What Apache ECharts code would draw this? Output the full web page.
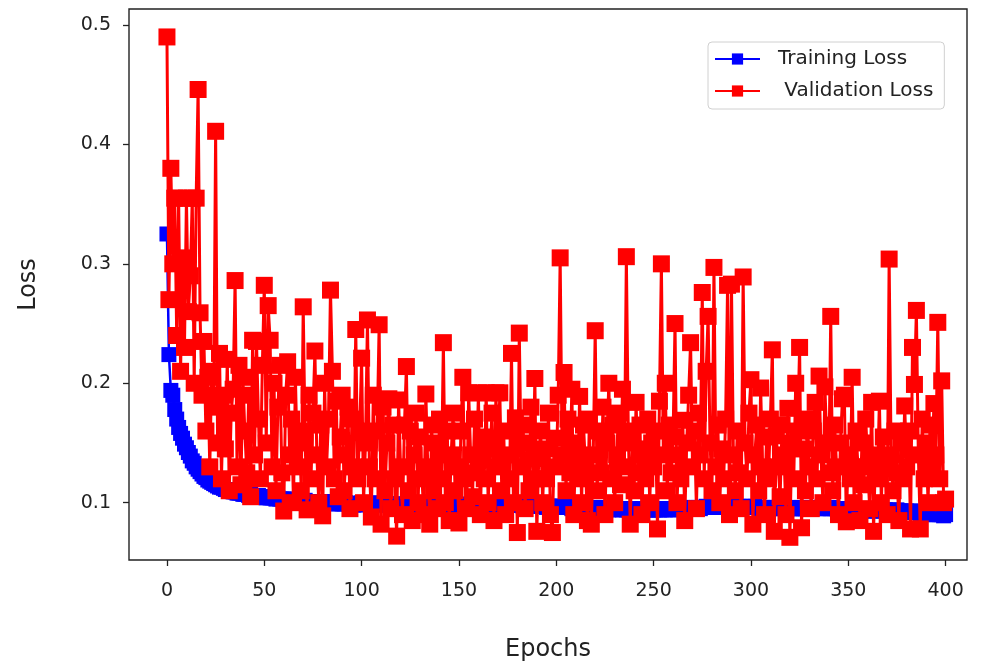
<!DOCTYPE html>
<html>
<head>
<meta charset="utf-8">
<script src="https://cdn.jsdelivr.net/npm/echarts@6/dist/echarts.min.js"></script>
<style>html,body{margin:0;padding:0;background:#fff;}#chart{width:984px;height:667px;}</style>
</head>
<body>
<div id="chart"></div>
<script>
const xTicks = [0, 50, 100, 150, 200, 250, 300, 350, 400];
const yTicks = [0.1, 0.2, 0.3, 0.4, 0.5];

const trainingLoss = [
0.325,0.224,0.194,0.190,0.178,0.170,0.163,0.158,0.154,0.149,
0.146,0.142,0.139,0.135,0.133,0.130,0.128,0.126,0.124,0.122,
0.121,0.119,0.118,0.117,0.116,0.115,0.114,0.113,0.113,0.112,
0.111,0.111,0.110,0.110,0.109,0.109,0.108,0.108,0.108,0.107,
0.107,0.107,0.106,0.107,0.106,0.106,0.105,0.106,0.105,0.105,
0.105,0.104,0.105,0.104,0.104,0.104,0.103,0.104,0.103,0.103,
0.103,0.102,0.103,0.102,0.102,0.103,0.102,0.101,0.102,0.101,
0.101,0.102,0.101,0.101,0.100,0.101,0.101,0.100,0.101,0.100,
0.100,0.100,0.101,0.100,0.100,0.099,0.100,0.100,0.099,0.100,
0.099,0.099,0.100,0.099,0.099,0.099,0.098,0.099,0.099,0.098,
0.100,0.099,0.100,0.099,0.099,0.100,0.099,0.099,0.098,0.099,
0.099,0.098,0.099,0.099,0.098,0.099,0.098,0.098,0.099,0.098,
0.099,0.098,0.098,0.097,0.098,0.098,0.099,0.098,0.097,0.098,
0.098,0.097,0.098,0.098,0.097,0.098,0.097,0.098,0.098,0.097,
0.097,0.098,0.097,0.097,0.098,0.096,0.097,0.098,0.097,0.097,
0.098,0.097,0.097,0.098,0.097,0.098,0.099,0.098,0.097,0.098,
0.098,0.099,0.098,0.098,0.099,0.098,0.098,0.099,0.099,0.098,
0.099,0.098,0.099,0.099,0.098,0.099,0.098,0.099,0.098,0.098,
0.098,0.099,0.098,0.097,0.098,0.098,0.097,0.098,0.097,0.097,
0.098,0.097,0.097,0.098,0.097,0.096,0.097,0.097,0.096,0.097,
0.097,0.096,0.097,0.096,0.096,0.097,0.096,0.096,0.095,0.096,
0.096,0.095,0.096,0.094,0.093,0.095,0.096,0.095,0.095,0.096,
0.095,0.096,0.095,0.095,0.096,0.095,0.095,0.094,0.095,0.095,
0.095,0.094,0.095,0.095,0.094,0.095,0.094,0.094,0.095,0.094,
0.094,0.095,0.094,0.094,0.095,0.094,0.094,0.095,0.094,0.094,
0.094,0.094,0.095,0.094,0.094,0.095,0.094,0.095,0.095,0.094,
0.095,0.095,0.094,0.095,0.095,0.096,0.095,0.095,0.096,0.095,
0.096,0.095,0.096,0.096,0.095,0.096,0.096,0.097,0.096,0.096,
0.096,0.097,0.096,0.096,0.097,0.096,0.097,0.096,0.096,0.097,
0.096,0.097,0.096,0.096,0.097,0.096,0.096,0.097,0.096,0.096,
0.096,0.096,0.097,0.096,0.096,0.095,0.096,0.096,0.095,0.096,
0.096,0.095,0.096,0.095,0.096,0.096,0.095,0.096,0.095,0.095,
0.096,0.095,0.095,0.096,0.095,0.095,0.096,0.095,0.095,0.096,
0.095,0.096,0.095,0.096,0.096,0.095,0.096,0.096,0.095,0.096,
0.095,0.095,0.096,0.095,0.095,0.094,0.095,0.095,0.094,0.095,
0.094,0.095,0.094,0.094,0.095,0.094,0.094,0.093,0.094,0.094,
0.093,0.094,0.094,0.093,0.094,0.093,0.094,0.094,0.093,0.094,
0.093,0.093,0.094,0.093,0.093,0.094,0.093,0.093,0.092,0.093,
0.093,0.092,0.093,0.092,0.092,0.093,0.092,0.091,0.092,0.091,
0.091,0.091,0.090,0.091,0.090,0.090,0.091,0.090,0.090,0.089,
0.090
];

const validationLoss = [
0.490,0.270,0.380,0.300,0.355,0.240,0.355,0.210,0.305,0.230,
0.355,0.260,0.290,0.355,0.200,0.355,0.446,0.259,0.190,0.235,
0.160,0.205,0.130,0.210,0.180,0.411,0.150,0.225,0.120,0.190,
0.145,0.220,0.110,0.175,0.195,0.286,0.130,0.215,0.115,0.205,
0.160,0.125,0.190,0.105,0.236,0.140,0.235,0.170,0.120,0.215,
0.282,0.150,0.265,0.236,0.130,0.200,0.110,0.180,0.215,0.125,
0.093,0.190,0.218,0.140,0.170,0.100,0.205,0.130,0.160,0.110,
0.264,0.150,0.094,0.190,0.120,0.175,0.227,0.140,0.100,0.165,
0.089,0.200,0.130,0.170,0.278,0.210,0.120,0.185,0.105,0.155,
0.190,0.110,0.140,0.180,0.095,0.170,0.130,0.245,0.120,0.160,
0.221,0.100,0.150,0.253,0.130,0.088,0.190,0.120,0.160,0.249,
0.082,0.180,0.110,0.150,0.187,0.095,0.165,0.120,0.072,0.186,
0.130,0.090,0.165,0.214,0.110,0.160,0.085,0.140,0.175,0.100,
0.155,0.120,0.090,0.191,0.130,0.082,0.165,0.110,0.150,0.095,
0.170,0.120,0.234,0.100,0.160,0.085,0.140,0.175,0.110,0.130,
0.083,0.160,0.205,0.120,0.095,0.192,0.140,0.105,0.170,0.125,
0.192,0.090,0.155,0.120,0.192,0.100,0.145,0.175,0.085,0.192,
0.130,0.192,0.110,0.160,0.090,0.140,0.120,0.225,0.100,0.171,
0.075,0.242,0.130,0.165,0.095,0.150,0.110,0.180,0.120,0.204,
0.076,0.137,0.160,0.100,0.145,0.120,0.175,0.090,0.075,0.154,
0.130,0.190,0.305,0.140,0.209,0.110,0.170,0.125,0.195,0.090,
0.150,0.120,0.189,0.100,0.165,0.130,0.085,0.170,0.082,0.140,
0.244,0.110,0.160,0.125,0.180,0.090,0.150,0.200,0.120,0.165,
0.100,0.140,0.175,0.115,0.195,0.130,0.306,0.160,0.082,0.150,
0.110,0.184,0.125,0.165,0.090,0.145,0.120,0.170,0.100,0.150,
0.130,0.160,0.078,0.185,0.300,0.140,0.200,0.110,0.165,0.125,
0.155,0.250,0.100,0.140,0.120,0.169,0.085,0.150,0.190,0.234,
0.130,0.160,0.095,0.175,0.140,0.276,0.120,0.210,0.256,0.150,
0.110,0.297,0.130,0.165,0.100,0.145,0.120,0.170,0.282,0.090,
0.283,0.140,0.110,0.160,0.125,0.095,0.289,0.150,0.120,0.175,
0.203,0.082,0.140,0.165,0.110,0.196,0.130,0.090,0.155,0.120,
0.170,0.228,0.076,0.156,0.130,0.105,0.165,0.140,0.090,0.179,
0.071,0.150,0.120,0.200,0.160,0.230,0.079,0.145,0.110,0.170,
0.130,0.095,0.160,0.184,0.120,0.206,0.140,0.100,0.197,0.150,
0.125,0.256,0.110,0.165,0.130,0.090,0.150,0.187,0.190,0.084,
0.140,0.120,0.205,0.100,0.160,0.130,0.085,0.150,0.115,0.170,
0.130,0.095,0.184,0.076,0.140,0.120,0.185,0.100,0.155,0.130,
0.090,0.304,0.140,0.110,0.160,0.125,0.085,0.150,0.120,0.181,
0.130,0.160,0.078,0.230,0.199,0.261,0.140,0.078,0.170,0.120,
0.150,0.100,0.165,0.130,0.183,0.140,0.251,0.120,0.202,0.100,
0.103
];

const epochs = trainingLoss.map((_, i) => i);
const trainPairs = epochs.map(i => [i, trainingLoss[i]]);
const valPairs = epochs.map(i => [i, validationLoss[i]]);

const FONT = 'DejaVu Sans';
const chart = echarts.init(document.getElementById('chart'), null, {renderer: 'canvas'});
chart.setOption({
  animation: false,
  backgroundColor: '#fff',
  grid: {left: 129, right: 17, top: 9, bottom: 101, show: true, borderColor: '#222', borderWidth: 1.4, backgroundColor: 'transparent'},
  legend: {
    orient: 'vertical', left: 708, top: 42,
    padding: [7, 11, 8, 6], itemGap: 12, itemWidth: 45, itemHeight: 14,
    backgroundColor: '#fff', borderColor: '#d0d0d0', borderWidth: 1, borderRadius: 4,
    textStyle: {fontFamily: FONT, fontSize: 20, color: '#222', padding: [0, 0, 0, 13]},
    data: ['Training Loss', ' Validation Loss']
  },
  xAxis: {
    type: 'value', min: -19.5, max: 411,
    name: 'Epochs', nameLocation: 'middle', nameGap: 78,
    nameTextStyle: {fontFamily: FONT, fontSize: 24, color: '#222'},
    axisLine: {show: false, onZero: false},
    splitLine: {show: false},
    axisTick: {show: true, length: 6, lineStyle: {color: '#222', width: 1.3}, customValues: xTicks},
    axisLabel: {fontFamily: FONT, fontSize: 19, color: '#222', margin: 22, customValues: xTicks, formatter: v => String(v)}
  },
  yAxis: {
    type: 'value', min: 0.052, max: 0.5134,
    name: 'Loss', nameLocation: 'middle', nameGap: 88, nameRotate: 90,
    nameTextStyle: {fontFamily: FONT, fontSize: 24, color: '#222'},
    axisLine: {show: false, onZero: false},
    splitLine: {show: false},
    axisTick: {show: true, length: 6, lineStyle: {color: '#222', width: 1.3}, customValues: yTicks},
    axisLabel: {fontFamily: FONT, fontSize: 19, color: '#222', margin: 18, customValues: yTicks, formatter: v => v.toFixed(1)}
  },
  series: [
    {
      name: 'Training Loss', type: 'line', data: trainPairs,
      symbol: 'rect', symbolSize: 15, showSymbol: true, showAllSymbol: true,
      lineStyle: {color: '#0000ff', width: 2.5}, itemStyle: {color: '#0000ff'},
      z: 2
    },
    {
      name: ' Validation Loss', type: 'line', data: valPairs,
      symbol: 'rect', symbolSize: 17, showSymbol: true, showAllSymbol: true,
      lineStyle: {color: '#ff0000', width: 3}, itemStyle: {color: '#ff0000'},
      z: 3
    }
  ]
});
</script>
</body>
</html>
